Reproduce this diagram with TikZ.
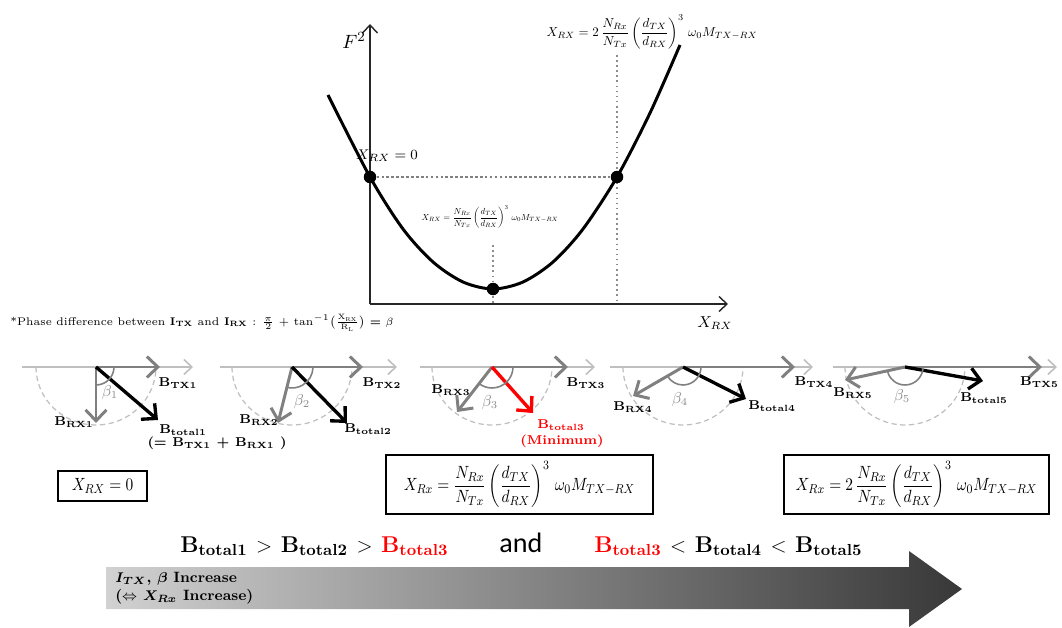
\documentclass[tikz,border=0pt]{standalone}
\usepackage{amsmath,amssymb}
\usepackage{graphicx}
\usepackage{fontspec}
\newfontfamily\andfont{Carlito}
\usepackage{xcolor}
\usepackage{tikz}
\usetikzlibrary{arrows.meta,positioning,calc}

\newcommand{\bvec}[1]{\textbf{B\textsubscript{#1}}}
\newcommand{\xmin}{X_{Rx} = \dfrac{N_{Rx}}{N_{Tx}}\left(\dfrac{d_{TX}}{d_{RX}}\right)^{3}\,\omega_0 M_{TX-RX}}
\newcommand{\xtwo}{X_{Rx} = 2\,\dfrac{N_{Rx}}{N_{Tx}}\left(\dfrac{d_{TX}}{d_{RX}}\right)^{3}\,\omega_0 M_{TX-RX}}

\begin{document}
\begin{tikzpicture}[x=0.02cm, y=-0.02cm,
  dot/.style={circle, fill=black, inner sep=0pt, minimum size=0.25cm},
  axis/.style={-{Straight Barb[length=1.6mm,width=3mm]}, line width=0.8pt, black!85},
  curve/.style={line width=1.7pt},
  guide/.style={dotted, line width=0.9pt, black!45},
  hguide/.style={dash pattern=on 1.5pt off 1.3pt, line width=1.7pt, black!50},
  phaxis/.style={-{Straight Barb[length=1.6mm,width=3mm]}, line width=0.9pt, black!25},
  txarrow/.style={-{Straight Barb[length=2.2mm,width=4.2mm]}, line width=1.7pt, black!50},
  totarrow/.style={-{Straight Barb[length=2.2mm,width=4.2mm]}, line width=1.9pt, black},
  halfcirc/.style={dash pattern=on 3pt off 2pt, line width=0.7pt, black!25},
  betaarc/.style={line width=0.9pt, black!50},
  blabel/.style={font=\fontsize{7.3}{8.5}\selectfont\bfseries, inner sep=1pt},
  betalabel/.style={font=\small, text=black!45, inner sep=0pt},
  eqbox/.style={draw, line width=0.8pt, font=\fontsize{11}{13}\selectfont},
  bigtext/.style={font=\fontsize{13}{15}\selectfont\bfseries, anchor=base west, inner sep=0pt},
]
\useasboundingbox (0,0) rectangle (1062,628);

\coordinate (orig) at (370,304);
\coordinate (xend) at (728,304);
\coordinate (yend) at (370,24);
\draw[axis] (orig) -- (xend);
\draw[axis] (orig) -- (yend);
\node[font=\fontsize{11}{13}\selectfont] (flabel) at (354,40) {$F^2$};
\node[font=\small] (xlabel) at (715,323) {$X_{RX}$};

\draw[curve] plot[smooth] coordinates {(328,95) (370,177) (403,229) (433,262) (463,282) (493,289) (523,282) (553,262) (583,229) (617,177) (650,113) (680,45)};
\coordinate (g2top) at (617,55);
\coordinate (g2bot) at (617,304);
\coordinate (gmtop) at (493,245);
\coordinate (gmbot) at (493,304);
\draw[guide] (g2top) -- (g2bot);
\draw[guide] (gmtop) -- (gmbot);
\node[dot] (p0) at (370,177) {};
\node[dot] (pmin) at (493,289) {};
\node[dot] (p2) at (617,177) {};
\draw[hguide] (p0) -- (p2);

\node[font=\fontsize{8}{9}\selectfont] (x0label) at (387,156) {$X_{RX} = 0$};
\node[inner sep=0pt] (xminlabel) at (490,217) {\scalebox{0.5}{$X_{RX} = \dfrac{N_{Rx}}{N_{Tx}}\left(\dfrac{d_{TX}}{d_{RX}}\right)^{3}\,\omega_0 M_{TX-RX}$}};
\node[inner sep=0pt] (x2label) at (652,32) {\scalebox{0.74}{$X_{RX} = 2\,\dfrac{N_{Rx}}{N_{Tx}}\left(\dfrac{d_{TX}}{d_{RX}}\right)^{3}\,\omega_0 M_{TX-RX}$}};

\node[anchor=west, font=\fontsize{6.3}{7.5}\selectfont, inner sep=0pt] (phase) at (10,323) {*Phase difference between \textbf{I\textsubscript{TX}} and \textbf{I\textsubscript{RX}} : $\tfrac{\pi}{2}$ + tan$^{-1}$$\bigl(\tfrac{\mathrm{X_{RX}}}{\mathrm{R_L}}\bigr)$ $\boldsymbol{=}$ $\beta$};

\coordinate (o1) at (96,367);
\coordinate (a1s) at (22,367);
\coordinate (a1e) at (193,367);
\coordinate (tx1) at (160,367);
\coordinate (rx1) at (96,423);
\coordinate (tot1) at (158,420);
\draw[halfcirc] ($(o1)+(-60,0)$) arc[start angle=180, end angle=360, x radius=1.2cm, y radius=1.16cm];
\draw[phaxis] (a1s) -- (a1e);
\draw[txarrow] (o1) -- (rx1);
\draw[txarrow] (o1) -- (tx1);
\draw[totarrow] (o1) -- (tot1);
\draw[betaarc] ($(o1)+(18,0)$) arc[start angle=0, end angle=-90, radius=0.36cm];
\node[betalabel] (b1) at (110,393) {$\beta_1$};
\node[blabel] (ltx1) at (178,383) {\bvec{TX1}};
\node[blabel] (lrx1) at (74,422) {\bvec{RX1}};
\node[blabel] (ltot1) at (183,430) {\bvec{total1}};
\node[blabel] (lsum1) at (217,443) {(= \bvec{TX1} + \bvec{RX1} )};

\coordinate (o2) at (292,367);
\coordinate (a2s) at (220,367);
\coordinate (a2e) at (397,367);
\coordinate (tx2) at (363,367);
\coordinate (rx2) at (278,423);
\coordinate (tot2) at (347,423);
\draw[halfcirc] ($(o2)+(-60,0)$) arc[start angle=180, end angle=360, x radius=1.2cm, y radius=1.16cm];
\draw[phaxis] (a2s) -- (a2e);
\draw[txarrow] (o2) -- (rx2);
\draw[txarrow] (o2) -- (tx2);
\draw[totarrow] (o2) -- (tot2);
\draw[betaarc] ($(o2)+(21,0)$) arc[start angle=0, end angle=-104, radius=0.42cm];
\node[betalabel] (b2) at (302,402) {$\beta_2$};
\node[blabel] (ltx2) at (382,383) {\bvec{TX2}};
\node[blabel] (lrx2) at (259,420) {\bvec{RX2}};
\node[blabel] (ltot2) at (368,429) {\bvec{total2}};

\coordinate (o3) at (492,367);
\coordinate (a3s) at (420,367);
\coordinate (a3e) at (595,367);
\coordinate (tx3) at (568,367);
\coordinate (rx3) at (457,412);
\coordinate (tot3) at (533,413);
\draw[halfcirc] ($(o3)+(-60,0)$) arc[start angle=180, end angle=360, x radius=1.2cm, y radius=1.16cm];
\draw[phaxis] (a3s) -- (a3e);
\draw[txarrow] (o3) -- (rx3);
\draw[txarrow] (o3) -- (tx3);
\draw[totarrow, red] (o3) -- (tot3);
\draw[betaarc] ($(o3)+(21,0)$) arc[start angle=0, end angle=-128, radius=0.42cm];
\node[betalabel] (b3) at (490,403) {$\beta_3$};
\node[blabel] (ltx3) at (586,383) {\bvec{TX3}};
\node[blabel] (lrx3) at (451,390) {\bvec{RX3}};
\node[blabel, text=red] (ltot3) at (561,425) {\bvec{total3}};
\node[blabel, text=red] (lmin3) at (562,441) {(Minimum)};

\coordinate (o4) at (683,367);
\coordinate (a4s) at (610,367);
\coordinate (a4e) at (813,367);
\coordinate (tx4) at (795,367);
\coordinate (rx4) at (633,396);
\coordinate (tot4) at (746,399);
\draw[halfcirc] ($(o4)+(-60,0)$) arc[start angle=180, end angle=360, x radius=1.2cm, y radius=1.16cm];
\draw[phaxis] (a4s) -- (a4e);
\draw[txarrow] (o4) -- (rx4);
\draw[txarrow] (o4) -- (tx4);
\draw[totarrow] (o4) -- (tot4);
\draw[betaarc] ($(o4)+(18,0)$) arc[start angle=0, end angle=-150, radius=0.36cm];
\node[betalabel] (b4) at (680,400) {$\beta_4$};
\node[blabel] (ltx4) at (814,382) {\bvec{TX4}};
\node[blabel] (lrx4) at (633,407) {\bvec{RX4}};
\node[blabel] (ltot4) at (772,406) {\bvec{total4}};

\coordinate (o5) at (905,367);
\coordinate (a5s) at (833,367);
\coordinate (a5e) at (1057,367);
\coordinate (tx5) at (1042,367);
\coordinate (rx5) at (845,380);
\coordinate (tot5) at (983,381);
\draw[halfcirc] ($(o5)+(-60,0)$) arc[start angle=180, end angle=360, x radius=1.2cm, y radius=1.16cm];
\draw[phaxis] (a5s) -- (a5e);
\draw[txarrow] (o5) -- (rx5);
\draw[txarrow] (o5) -- (tx5);
\draw[totarrow] (o5) -- (tot5);
\draw[betaarc] ($(o5)+(18,0)$) arc[start angle=0, end angle=-168, radius=0.36cm];
\node[betalabel] (b5) at (902,397) {$\beta_5$};
\node[blabel, anchor=east] (ltx5) at (1061,382) {\bvec{TX5}};
\node[blabel] (lrx5) at (853,393) {\bvec{RX5}};
\node[blabel] (ltot5) at (984,398) {\bvec{total5}};

\node[eqbox, minimum width=1.78cm, minimum height=0.6cm] (box1) at (102.5,486) {\scalebox{0.8}[0.92]{$X_{RX} = 0$}};
\node[eqbox, minimum width=5.34cm, minimum height=1.18cm] (box2) at (519.5,484.5) {\scalebox{0.8}[0.92]{$\xmin$}};
\node[eqbox, minimum width=5.3cm, minimum height=1.18cm] (box3) at (916.5,484.5) {\scalebox{0.8}[0.92]{$\xtwo$}};

\node[bigtext] (cmp1) at (180,552) {\bvec{total1}\ $>$\ \bvec{total2}\ $>$\ \textcolor{red}{\bvec{total3}}};
\node[bigtext, font=\andfont\fontsize{16}{18}\selectfont] (cmpand) at (499,552) {and};
\node[bigtext] (cmp2) at (594,552) {\textcolor{red}{\bvec{total3}}\ $<$\ \bvec{total4}\ $<$\ \bvec{total5}};

\shade[left color=black!18, right color=black!78] (106,567) -- (909,567) -- (909,551) -- (962,589) -- (909,627) -- (909,609) -- (106,609) -- cycle;
\node[anchor=west, align=left, font=\fontsize{8.5}{10}\selectfont\bfseries, inner sep=0pt] (inc) at (115,588) {$\boldsymbol{I_{TX}}$, $\boldsymbol{\beta}$ Increase\\($\Leftrightarrow$ $\boldsymbol{X_{Rx}}$ Increase)};

\end{tikzpicture}
\end{document}
